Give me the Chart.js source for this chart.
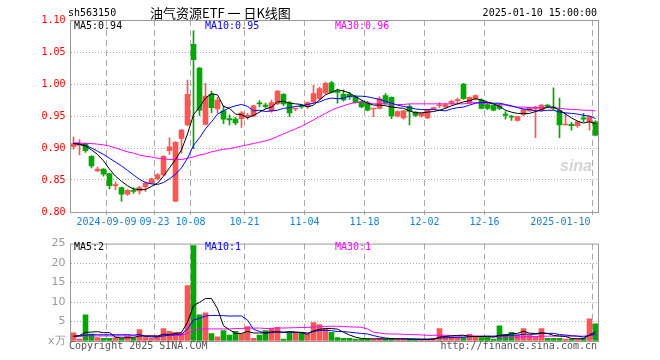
<!DOCTYPE html>
<html>
<head>
<meta charset="utf-8">
<script src="https://cdn.jsdelivr.net/npm/chart.js@4"></script>
<style>
  html, body { margin: 0; padding: 0; background: #fff; }
  #wrap { position: relative; width: 660px; height: 360px; }
  #kline { position: absolute; left: 0; top: 0; }
  #vol { position: absolute; left: 0; top: 232px; }
</style>
</head>
<body>
<div id="wrap">
  <canvas id="kline" width="660" height="232"></canvas>
  <canvas id="vol" width="660" height="128"></canvas>
</div>
<script>
// trading days shown on the chart
const dates = [
  '2024-08-30',
  '2024-09-02', '2024-09-03', '2024-09-04', '2024-09-05', '2024-09-06',
  '2024-09-09', '2024-09-10', '2024-09-11', '2024-09-12', '2024-09-13',
  '2024-09-18', '2024-09-19', '2024-09-20',
  '2024-09-23', '2024-09-24', '2024-09-25', '2024-09-26', '2024-09-27',
  '2024-09-30',
  '2024-10-08', '2024-10-09', '2024-10-10', '2024-10-11',
  '2024-10-14', '2024-10-15', '2024-10-16', '2024-10-17', '2024-10-18',
  '2024-10-21', '2024-10-22', '2024-10-23', '2024-10-24', '2024-10-25',
  '2024-10-28', '2024-10-29', '2024-10-30', '2024-10-31', '2024-11-01',
  '2024-11-04', '2024-11-05', '2024-11-06', '2024-11-07', '2024-11-08',
  '2024-11-11', '2024-11-12', '2024-11-13', '2024-11-14', '2024-11-15',
  '2024-11-18', '2024-11-19', '2024-11-20', '2024-11-21', '2024-11-22',
  '2024-11-25', '2024-11-26', '2024-11-27', '2024-11-28', '2024-11-29',
  '2024-12-02', '2024-12-03', '2024-12-04', '2024-12-05', '2024-12-06',
  '2024-12-09', '2024-12-10', '2024-12-11', '2024-12-12', '2024-12-13',
  '2024-12-16', '2024-12-17', '2024-12-18', '2024-12-19', '2024-12-20',
  '2024-12-23', '2024-12-24', '2024-12-25', '2024-12-26', '2024-12-27',
  '2024-12-30', '2024-12-31',
  '2025-01-02', '2025-01-03',
  '2025-01-06', '2025-01-07', '2025-01-08', '2025-01-09', '2025-01-10'
];

const opens = [
  0.902, 0.904, 0.907, 0.887, 0.864, 0.867, 0.860, 0.841, 0.838, 0.828,
  0.834, 0.833, 0.839, 0.845, 0.852, 0.858, 0.896, 0.817, 0.915, 0.936,
  1.062, 1.025, 0.937, 0.984, 0.961, 0.958, 0.946, 0.945, 0.946, 0.949,
  0.950, 0.970, 0.967, 0.958, 0.969, 0.984, 0.971, 0.961, 0.966, 0.965,
  0.972, 0.977, 0.986, 1.002, 0.989, 0.984, 0.984, 0.980, 0.972, 0.970,
  0.961, 0.962, 0.982, 0.979, 0.950, 0.947, 0.965, 0.956, 0.950, 0.947,
  0.961, 0.966, 0.964, 0.970, 0.974, 1.000, 0.971, 0.977, 0.975, 0.968,
  0.967, 0.966, 0.953, 0.950, 0.943, 0.952, 0.958, 0.961, 0.959, 0.967,
  0.964, 0.959, 0.936, 0.937, 0.935, 0.947, 0.941, 0.941
];
const highs = [
  0.917, 0.913, 0.908, 0.888, 0.870, 0.868, 0.861, 0.847, 0.839, 0.835,
  0.838, 0.840, 0.847, 0.853, 0.860, 0.888, 0.916, 0.910, 0.929, 1.006,
  1.083, 1.026, 1.001, 0.989, 0.979, 0.966, 0.952, 0.948, 0.957, 0.954,
  0.967, 0.974, 0.970, 0.975, 0.990, 0.985, 0.973, 0.962, 0.968, 0.972,
  0.998, 0.995, 1.003, 1.004, 0.992, 0.991, 0.987, 0.982, 0.974, 0.973,
  0.962, 0.980, 0.985, 0.980, 0.958, 0.959, 0.968, 0.957, 0.955, 0.960,
  0.964, 0.971, 0.970, 0.975, 0.978, 1.001, 0.980, 0.983, 0.977, 0.970,
  0.968, 0.969, 0.957, 0.951, 0.950, 0.961, 0.964, 0.965, 0.968, 0.968,
  0.994, 0.978, 0.954, 0.940, 0.942, 0.954, 0.950, 0.943
];
const lows = [
  0.898, 0.889, 0.893, 0.869, 0.863, 0.856, 0.836, 0.835, 0.817, 0.826,
  0.829, 0.828, 0.832, 0.844, 0.850, 0.857, 0.890, 0.816, 0.892, 0.935,
  0.899, 0.951, 0.936, 0.955, 0.955, 0.938, 0.936, 0.936, 0.932, 0.945,
  0.949, 0.964, 0.962, 0.956, 0.968, 0.966, 0.949, 0.958, 0.962, 0.962,
  0.970, 0.975, 0.984, 0.986, 0.970, 0.973, 0.976, 0.970, 0.963, 0.958,
  0.949, 0.961, 0.968, 0.946, 0.948, 0.945, 0.936, 0.949, 0.948, 0.946,
  0.960, 0.963, 0.962, 0.968, 0.970, 0.976, 0.970, 0.975, 0.961, 0.960,
  0.958, 0.960, 0.945, 0.943, 0.942, 0.950, 0.957, 0.916, 0.957, 0.963,
  0.960, 0.916, 0.936, 0.928, 0.932, 0.941, 0.928, 0.919
];
const closes = [
  0.907, 0.907, 0.896, 0.872, 0.867, 0.859, 0.841, 0.843, 0.828, 0.834,
  0.832, 0.838, 0.845, 0.852, 0.858, 0.887, 0.902, 0.909, 0.928, 0.984,
  1.038, 0.959, 0.981, 0.963, 0.975, 0.945, 0.944, 0.939, 0.955, 0.951,
  0.966, 0.969, 0.965, 0.971, 0.989, 0.969, 0.955, 0.962, 0.964, 0.971,
  0.985, 0.993, 1.001, 0.987, 0.987, 0.975, 0.980, 0.971, 0.964, 0.959,
  0.962, 0.977, 0.970, 0.950, 0.957, 0.958, 0.957, 0.951, 0.954, 0.959,
  0.963, 0.967, 0.968, 0.973, 0.975, 0.977, 0.979, 0.982, 0.962, 0.962,
  0.959, 0.962, 0.951, 0.948, 0.949, 0.960, 0.962, 0.964, 0.967, 0.965,
  0.962, 0.936, 0.937, 0.935, 0.941, 0.945, 0.949, 0.920
];

// price moving averages as drawn
const ma5 = [
  0.907, 0.906, 0.903, 0.897, 0.890, 0.880, 0.867, 0.856, 0.848, 0.841,
  0.836, 0.835, 0.835, 0.840, 0.845, 0.856, 0.869, 0.882, 0.897, 0.922,
  0.952, 0.964, 0.978, 0.985, 0.983, 0.965, 0.962, 0.953, 0.952, 0.947,
  0.951, 0.956, 0.961, 0.964, 0.972, 0.973, 0.970, 0.969, 0.968, 0.964,
  0.967, 0.975, 0.983, 0.987, 0.991, 0.989, 0.986, 0.980, 0.975, 0.970,
  0.967, 0.967, 0.966, 0.964, 0.963, 0.962, 0.958, 0.955, 0.955, 0.956,
  0.957, 0.959, 0.962, 0.966, 0.969, 0.972, 0.974, 0.977, 0.975, 0.972,
  0.969, 0.965, 0.959, 0.956, 0.954, 0.954, 0.954, 0.957, 0.960, 0.964,
  0.964, 0.959, 0.953, 0.947, 0.942, 0.939, 0.941, 0.938
];
const ma10 = [
  0.907, 0.906, 0.904, 0.900, 0.895, 0.890, 0.884, 0.878, 0.872, 0.865,
  0.858, 0.851, 0.846, 0.844, 0.843, 0.846, 0.852, 0.859, 0.869, 0.884,
  0.904, 0.916, 0.930, 0.941, 0.953, 0.958, 0.963, 0.966, 0.968, 0.965,
  0.958, 0.959, 0.957, 0.958, 0.959, 0.962, 0.963, 0.965, 0.966, 0.968,
  0.970, 0.972, 0.976, 0.978, 0.977, 0.978, 0.981, 0.981, 0.981, 0.980,
  0.978, 0.976, 0.973, 0.970, 0.967, 0.965, 0.963, 0.961, 0.960, 0.960,
  0.960, 0.959, 0.958, 0.961, 0.963, 0.964, 0.967, 0.970, 0.971, 0.971,
  0.970, 0.970, 0.968, 0.966, 0.963, 0.961, 0.960, 0.958, 0.958, 0.959,
  0.959, 0.956, 0.955, 0.954, 0.953, 0.951, 0.950, 0.946
];
const ma30 = [
  0.908, 0.908, 0.907, 0.907, 0.906, 0.905, 0.903, 0.900, 0.897, 0.894,
  0.892, 0.889, 0.887, 0.886, 0.884, 0.883, 0.882, 0.882, 0.882, 0.884,
  0.886, 0.889, 0.891, 0.894, 0.896, 0.898, 0.899, 0.901, 0.903, 0.905,
  0.907, 0.909, 0.911, 0.914, 0.918, 0.922, 0.926, 0.930, 0.934, 0.939,
  0.944, 0.949, 0.954, 0.959, 0.963, 0.966, 0.969, 0.971, 0.972, 0.971,
  0.969, 0.969, 0.969, 0.968, 0.968, 0.968, 0.969, 0.969, 0.969, 0.969,
  0.969, 0.969, 0.969, 0.969, 0.969, 0.969, 0.970, 0.971, 0.970, 0.970,
  0.969, 0.968, 0.967, 0.965, 0.964, 0.964, 0.963, 0.963, 0.963, 0.963,
  0.963, 0.962, 0.961, 0.960, 0.960, 0.959, 0.959, 0.958
];

// volume, in 万
const volumes = [
  2.1, 0.5, 6.7, 1.8, 0.9, 0.7, 0.7, 0.9, 0.7, 1.3,
  0.7, 2.9, 0.9, 0.7, 1.1, 3.2, 2.5, 2.2, 2.0, 14.2,
  24.5, 6.7, 7.2, 1.9, 1.1, 2.7, 1.5, 2.5, 1.9, 3.7,
  0.7, 1.5, 2.7, 3.2, 3.5, 0.5, 2.2, 2.2, 2.2, 1.7,
  4.7, 4.2, 3.2, 2.2, 0.9, 0.7, 0.7, 0.5, 0.5, 0.5,
  0.5, 0.7, 0.5, 0.7, 0.4, 0.4, 0.5, 0.4, 0.4, 0.4,
  0.7, 3.2, 1.1, 1.1, 1.1, 0.9, 1.7, 1.1, 0.9, 0.9,
  0.5, 3.9, 1.7, 2.2, 1.5, 3.2, 1.5, 1.1, 3.2, 0.7,
  0.7, 0.7, 0.5, 0.5, 0.5, 0.7, 5.7, 4.4
];
const volMa5 = [
  1.2, 1.4, 2.2, 2.3, 2.40, 2.12, 2.16, 1.00, 0.78, 0.86,
  0.86, 1.30, 1.30, 1.30, 1.26, 1.76, 1.68, 1.94, 2.20, 4.82,
  9.08, 9.92, 10.92, 10.90, 8.28, 3.92, 2.88, 1.94, 1.94, 2.46,
  2.06, 2.06, 2.10, 2.36, 2.32, 2.28, 2.42, 2.32, 2.12, 1.76,
  2.60, 3.00, 3.20, 3.20, 3.04, 2.24, 1.54, 1.00, 0.66, 0.58,
  0.54, 0.54, 0.54, 0.58, 0.56, 0.54, 0.50, 0.48, 0.42, 0.42,
  0.48, 1.02, 1.16, 1.30, 1.44, 1.48, 1.18, 1.18, 1.14, 1.10,
  1.02, 1.46, 1.58, 1.84, 1.96, 2.50, 2.02, 1.90, 2.10, 1.94,
  1.44, 1.28, 1.16, 0.62, 0.58, 0.58, 1.58, 2.36
];
const volMa10 = [
  1.2, 1.3, 1.5, 1.6, 1.6, 1.6, 1.6, 1.6, 1.6, 1.63,
  1.49, 1.73, 1.15, 1.04, 1.06, 1.31, 1.49, 1.62, 1.75, 3.04,
  5.42, 5.80, 6.43, 6.55, 6.55, 6.50, 6.40, 6.43, 6.42, 5.37,
  2.99, 2.47, 2.02, 2.15, 2.39, 2.17, 2.24, 2.21, 2.24, 2.04,
  2.44, 2.71, 2.76, 2.66, 2.40, 2.42, 2.27, 2.10, 1.93, 1.81,
  1.39, 1.04, 0.77, 0.62, 0.57, 0.54, 0.52, 0.51, 0.50, 0.49,
  0.51, 0.76, 0.82, 0.86, 0.93, 0.98, 1.10, 1.17, 1.22, 1.27,
  1.25, 1.32, 1.38, 1.49, 1.53, 1.76, 1.74, 1.74, 1.97, 1.95,
  1.97, 1.65, 1.53, 1.36, 1.26, 1.01, 1.43, 1.76
];
const volMa30 = [
  1.2, 1.2, 1.3, 1.3, 1.3, 1.3, 1.3, 1.3, 1.3, 1.3,
  1.3, 1.3, 1.3, 1.3, 1.3, 1.4, 1.4, 1.4, 1.5, 2.0,
  2.8, 3.0, 3.1, 3.1, 3.1, 3.1, 3.1, 3.2, 3.2, 3.35,
  3.30, 3.33, 3.20, 3.25, 3.33, 3.33, 3.38, 3.42, 3.47, 3.48,
  3.62, 3.66, 3.74, 3.79, 3.78, 3.70, 3.64, 3.58, 3.53, 3.07,
  2.27, 2.07, 1.85, 1.81, 1.79, 1.71, 1.68, 1.61, 1.56, 1.45,
  1.45, 1.50, 1.45, 1.38, 1.30, 1.31, 1.30, 1.26, 1.22, 1.19,
  1.05, 1.04, 0.99, 0.99, 1.01, 1.09, 1.12, 1.14, 1.23, 1.24,
  1.24, 1.24, 1.24, 1.24, 1.24, 1.25, 1.42, 1.56
];

// x axis labels and where they sit
const tickDates = ['2024-09-09', '2024-09-23', '2024-10-08', '2024-10-21', '2024-11-04',
  '2024-11-18', '2024-12-02', '2024-12-16', '2025-01-10'];
const tickText = ['2024-09-09', '09-23', '10-08', '10-21', '11-04', '11-18', '12-02', '12-16', '2025-01-10'];

const mono = '"DejaVu Sans Mono", monospace';
const upColor = '#ff5555';
const downColor = '#00a800';
const gridGray = '#aaaaaa';
const frameGray = '#999999';

const candleColors = closes.map((c, i) => c >= opens[i] ? upColor : downColor);
const bodies = opens.map((o, i) => [o, closes[i]]);
const wicks = lows.map((l, i) => [l, highs[i]]);
const gridIdx = tickDates.map(d => dates.indexOf(d));
const vGrid = (c) => gridIdx.includes(c.index) ? gridGray : 'rgba(0,0,0,0)';

function maLine(data, color) {
  return { type: 'line', data: data, borderColor: color, borderWidth: 1,
    pointRadius: 0, tension: 0, order: 0 };
}

function drawFrame(ctx, a) {
  ctx.strokeStyle = frameGray;
  ctx.lineWidth = 1;
  ctx.strokeRect(a.left, a.top + 0.5, a.right - a.left, a.bottom - a.top);
}

const priceText = {
  id: 'priceText',
  afterDraw(chart) {
    const { ctx, chartArea: a } = chart;
    const xs = chart.scales.x;
    const step = (a.right - a.left) / dates.length;
    ctx.save();
    drawFrame(ctx, a);

    ctx.textBaseline = 'alphabetic';
    ctx.font = '10px ' + mono;
    ctx.fillStyle = '#000';
    ctx.textAlign = 'left';
    ctx.fillText('sh563150', 68, 16);
    ctx.textAlign = 'right';
    ctx.fillText('2025-01-10 15:00:00', 597, 16);

    ctx.textAlign = 'left';
    ctx.font = '13px "Noto Sans CJK SC", sans-serif';
    ctx.fillText('油气资源ETF 一 日K线图', 150, 18);

    ctx.font = '10px ' + mono;
    ctx.fillStyle = '#000';
    ctx.fillText('MA5:' + ma5[ma5.length - 1].toFixed(2), 74, 29);
    ctx.fillStyle = '#0000ff';
    ctx.fillText('MA10:' + ma10[ma10.length - 1].toFixed(2), 205, 29);
    ctx.fillStyle = '#ff00ff';
    ctx.fillText('MA30:' + ma30[ma30.length - 1].toFixed(2), 335, 29);

    // watermark
    ctx.font = 'italic bold 16px "Liberation Sans", sans-serif';
    ctx.fillStyle = '#d4d4d4';
    ctx.textAlign = 'right';
    ctx.fillText('sina', 592, 171);

    // date labels
    ctx.font = '10px ' + mono;
    ctx.fillStyle = '#1a7ed4';
    ctx.textBaseline = 'middle';
    tickDates.forEach((d, k) => {
      const gx = xs.getPixelForValue(dates.indexOf(d)) - step / 2;
      const last = k === tickDates.length - 1;
      ctx.textAlign = last ? 'right' : 'center';
      ctx.fillText(tickText[k], last ? gx - 2 : gx, a.bottom + 10);
    });
    ctx.restore();
  }
};

const volText = {
  id: 'volText',
  afterDraw(chart) {
    const { ctx, chartArea: a } = chart;
    ctx.save();
    drawFrame(ctx, a);
    ctx.font = '10px ' + mono;
    ctx.textBaseline = 'alphabetic';
    ctx.textAlign = 'left';
    ctx.fillStyle = '#000';
    ctx.fillText('MA5:2', 74, 18);
    ctx.fillStyle = '#0000ff';
    ctx.fillText('MA10:1', 205, 18);
    ctx.fillStyle = '#ff00ff';
    ctx.fillText('MA30:1', 335, 18);

    ctx.fillStyle = '#555';
    ctx.fillText('Copyright 2025 SINA.COM', 69, 117);
    ctx.textAlign = 'right';
    ctx.fillText('http://finance.sina.com.cn', 597, 117);
    ctx.restore();
  }
};

const xCommon = (height, ticks) => ({
  offset: true,
  grid: { offset: true, color: vGrid, drawTicks: ticks, tickLength: 3 },
  border: { display: false, dash: [6, 4] },
  ticks: { display: false, autoSkip: false },
  afterFit(s) { s.height = height; }
});

new Chart(document.getElementById('kline'), {
  type: 'bar',
  data: {
    labels: dates,
    datasets: [
      maLine(ma5, '#000000'),
      maLine(ma10, '#0000ff'),
      maLine(ma30, '#ff00ff'),
      { data: bodies, backgroundColor: candleColors, barThickness: 5, minBarLength: 1,
        grouped: false, order: 1 },
      { data: wicks, backgroundColor: candleColors, barThickness: 1,
        grouped: false, order: 2 }
    ]
  },
  options: {
    responsive: false,
    animation: false,
    events: [],
    layout: { padding: { top: 20, right: 61.5, left: 0, bottom: 0 } },
    plugins: { legend: { display: false }, tooltip: { enabled: false } },
    scales: {
      x: xCommon(20, true),
      y: {
        min: 0.8, max: 1.1,
        ticks: { stepSize: 0.05, color: '#ff0000', padding: 5,
          font: { family: mono, size: 10 },
          callback: v => v.toFixed(2) },
        grid: { drawTicks: false,
          color: c => (c.tick && c.tick.value > 0.801 && c.tick.value < 1.099) ? gridGray : 'rgba(0,0,0,0)' },
        border: { display: false, dash: [1, 2] },
        afterFit(s) { s.width = 70.5; }
      }
    }
  },
  plugins: [priceText]
});

new Chart(document.getElementById('vol'), {
  type: 'bar',
  data: {
    labels: dates,
    datasets: [
      maLine(volMa5, '#000000'),
      maLine(volMa10, '#0000ff'),
      maLine(volMa30, '#ff00ff'),
      { data: volumes, backgroundColor: candleColors, barThickness: 5, order: 1 }
    ]
  },
  options: {
    responsive: false,
    animation: false,
    events: [],
    layout: { padding: { top: 9, right: 61.5, left: 0, bottom: 0 } },
    plugins: { legend: { display: false }, tooltip: { enabled: false } },
    scales: {
      x: xCommon(19, false),
      y: {
        min: 0, max: 25,
        ticks: { stepSize: 5, color: '#999999', padding: 5,
          font: { family: '"DejaVu Sans", sans-serif', size: 11 },
          callback: v => v === 0 ? 'x万' : v },
        grid: { drawTicks: false,
          color: c => (c.tick && c.tick.value > 0 && c.tick.value < 25) ? gridGray : 'rgba(0,0,0,0)' },
        border: { display: false, dash: [1, 2] },
        afterFit(s) { s.width = 70.5; }
      }
    }
  },
  plugins: [volText]
});
</script>
</body>
</html>
